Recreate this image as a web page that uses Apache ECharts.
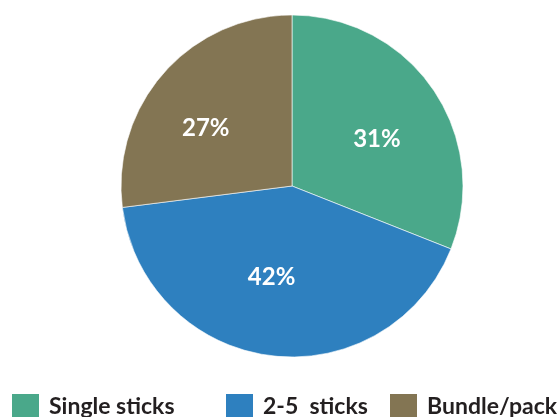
<!DOCTYPE html>
<html><head><meta charset="utf-8">
<script src="https://cdn.jsdelivr.net/npm/echarts@6/dist/echarts.min.js"></script>
<style>html,body{margin:0;padding:0;background:#fff}#c{width:560px;height:417px}</style>
</head><body><div id="c"></div>
<script>
const categories = ['Single sticks', '2-5  sticks', 'Bundle/pack'];
const values = [31, 42, 27];
const colors = ['#4aa88a', '#2e80bf', '#837553'];
const labelOffsets = [[3, 9], [-8, -7], [-12, 8]];

const data = categories.map((n, i) => ({ name: n, value: values[i], itemStyle: { color: colors[i] } }));
const legendLeft = [10, 224, 388];
const chart = echarts.init(document.getElementById('c'));
chart.setOption({
  animation: false,
  legend: categories.map((n, i) => ({
    data: [n], left: legendLeft[i], top: 392, padding: 0, itemWidth: 29, itemHeight: 28, icon: 'rect',
    textStyle: { fontFamily: 'Lato', fontWeight: 700, fontSize: 23, color: '#231f20', padding: [0, 0, 0, 4] }
  })),
  series: [{
    type: 'pie', center: [292, 186], radius: [0, 171], startAngle: 90, clockwise: true,
    data: data, label: { show: false }, labelLine: { show: false },
    itemStyle: { borderColor: '#ffffff', borderWidth: 0.6 }, emphasis: { disabled: true }
  }, {
    type: 'pie', center: [292, 186], radius: [0, 192], startAngle: 90, clockwise: true, silent: true,
    data: data.map((d, i) => ({ name: d.name, value: d.value, itemStyle: { color: 'transparent' }, label: { offset: labelOffsets[i] } })),
    itemStyle: { borderWidth: 0 },
    label: { show: true, position: 'inside', formatter: '{c}%', color: '#ffffff', fontFamily: 'Lato', fontWeight: 700, fontSize: 24 },
    labelLine: { show: false }, emphasis: { disabled: true }
  }]
});
</script></body></html>
